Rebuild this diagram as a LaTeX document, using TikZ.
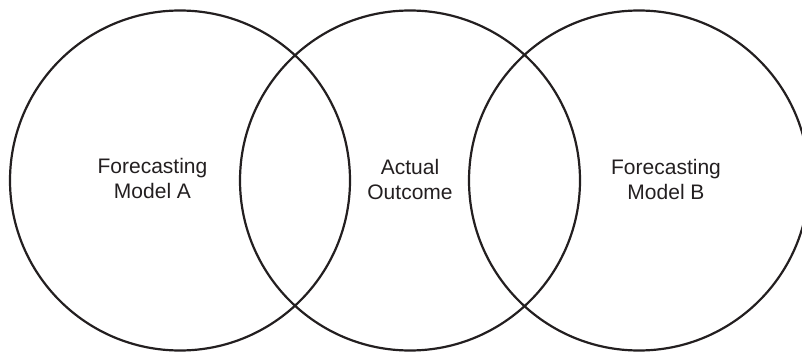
\documentclass[tikz,border=0pt]{standalone}
\usepackage{fontspec}
\setmainfont{Liberation Sans}
\definecolor{inkline}{RGB}{35,31,32}
\tikzset{
    venn/.style={draw=inkline, line width=2.2pt},
    label/.style={align=center, text=inkline, font=\fontsize{21}{25}\selectfont}
}
\begin{document}
\begin{tikzpicture}[x=1pt, y=1pt]
    \useasboundingbox (0,0) rectangle (802,351);

    % Centres
    \coordinate (A) at (180,170.5);
    \coordinate (O) at (410,170.5);
    \coordinate (B) at (639,170.5);

    % Circles
    \draw[venn] (A) circle [radius=170];
    \draw[venn] (O) circle [radius=170];
    \draw[venn] (B) circle [radius=170];

    % Labels
    \node[label] (modelA) at (152.5,173) {Forecasting\\Model A};
    \node[label] (actual) at (410,172) {Actual\\Outcome};
    \node[label] (modelB) at (666,172) {Forecasting\\Model B};
\end{tikzpicture}
\end{document}
